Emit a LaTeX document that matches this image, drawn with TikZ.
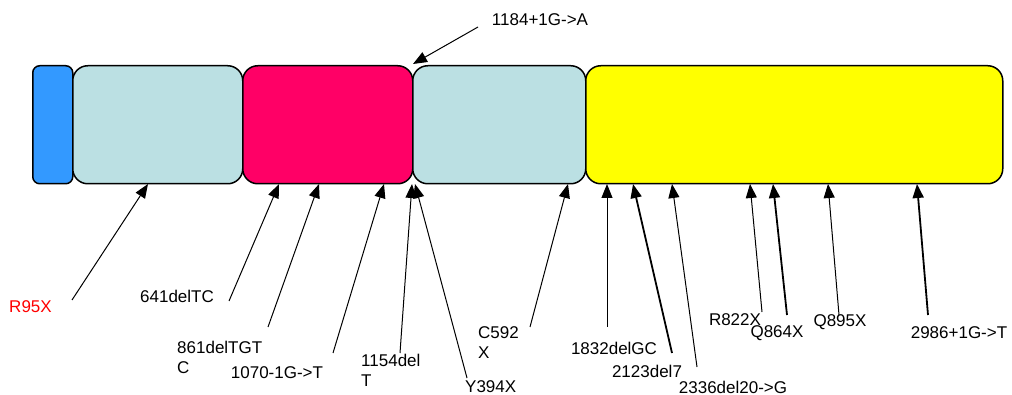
\documentclass[tikz,border=0pt]{standalone}
\usepackage{fontspec}
\setmainfont{Liberation Sans}
\usetikzlibrary{arrows.meta}
\definecolor{cblue}{HTML}{3399FF}
\definecolor{clb}{HTML}{BBE0E3}
\definecolor{cpink}{HTML}{FF0066}
\definecolor{cyel}{HTML}{FFFF00}
\definecolor{cred}{HTML}{FF0000}
\tikzset{
  dom/.style={draw=black, line width=1.5pt, rounded corners=15pt, inner sep=0pt, minimum height=118pt, anchor=north west},
  lbl/.style={font=\fontsize{17pt}{20pt}\selectfont, inner sep=0pt},
  mut/.style={line width=1pt, -{Triangle[length=14pt,width=11pt]}},
  mutb/.style={mut, line width=1.8pt},
}
\begin{document}
\begin{tikzpicture}[x=1pt,y=-1pt]
\useasboundingbox (0,0) rectangle (1012,395);
% domains
\node[dom, fill=cblue, rounded corners=7pt, minimum width=40pt] (d0) at (32,65) {};
\node[dom, fill=clb, minimum width=170pt] (d1) at (72,65) {};
\node[dom, fill=cpink, minimum width=170pt] (d2) at (242,65) {};
\node[dom, fill=clb, minimum width=173pt] (d3) at (412,65) {};
\node[dom, fill=cyel, minimum width=417pt] (d4) at (585,65) {};
% labels
\node[lbl, text=cred] (l1) at (30.5,307) {R95X};
\node[lbl] (l2) at (177,296) {641delTC};
\node[lbl, anchor=west, align=left] (l3) at (177,357) {861delTGT\\C};
\node[lbl] (l4) at (277,373) {1070-1G->T};
\node[lbl, anchor=west, align=left] (l5) at (361,370) {1154del\\T};
\node[lbl, anchor=west] (l6) at (465,387) {Y394X};
\node[lbl, anchor=west, align=left] (l7) at (478,343) {C592\\X};
\node[lbl] (l8) at (614,348) {1832delGC};
\node[lbl] (l9) at (647,371) {2123del7};
\node[lbl] (l10) at (733,387) {2336del20->G};
\node[lbl] (l11) at (735,320) {R822X};
\node[lbl] (l12) at (777,333) {Q864X};
\node[lbl] (l13) at (840,322) {Q895X};
\node[lbl] (l14) at (959,333) {2986+1G->T};
\node[lbl] (l15) at (540,20) {1184+1G->A};
% connector ends
\coordinate (s1) at (72,300);   \coordinate (t1) at (148,184);
\coordinate (s2) at (229,301);  \coordinate (t2) at (279,184);
\coordinate (s3) at (268,327);  \coordinate (t3) at (319,184);
\coordinate (s4) at (333,353);  \coordinate (t4) at (384,184);
\coordinate (s5) at (400,353);  \coordinate (t5) at (412,184);
\coordinate (s6) at (467,378);  \coordinate (t6) at (415,184);
\coordinate (s7) at (530,327);  \coordinate (t7) at (568,184);
\coordinate (s8) at (607,327);  \coordinate (t8) at (607,184);
\coordinate (s9) at (672,353);  \coordinate (t9) at (633,184);
\coordinate (s10) at (697,367); \coordinate (t10) at (672,184);
\coordinate (s11) at (762,312); \coordinate (t11) at (750,184);
\coordinate (s12) at (787,315); \coordinate (t12) at (773,184);
\coordinate (s13) at (839,315); \coordinate (t13) at (828,184);
\coordinate (s14) at (928,315); \coordinate (t14) at (917,184);
\coordinate (s15) at (478,27);  \coordinate (t15) at (413,64);
\draw[mut] (s1) -- (t1);
\draw[mut] (s2) -- (t2);
\draw[mut] (s3) -- (t3);
\draw[mut] (s4) -- (t4);
\draw[mut] (s5) -- (t5);
\draw[mut] (s6) -- (t6);
\draw[mut] (s7) -- (t7);
\draw[mut] (s8) -- (t8);
\draw[mutb] (s9) -- (t9);
\draw[mut] (s10) -- (t10);
\draw[mut] (s11) -- (t11);
\draw[mutb] (s12) -- (t12);
\draw[mut] (s13) -- (t13);
\draw[mutb] (s14) -- (t14);
\draw[mut] (s15) -- (t15);
\end{tikzpicture}
\end{document}
